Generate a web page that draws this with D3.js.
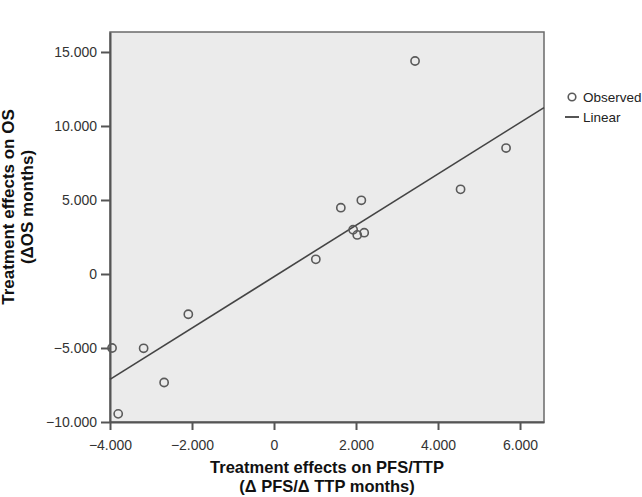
<!DOCTYPE html>
<html>
<head>
<meta charset="utf-8">
<script src="https://cdn.jsdelivr.net/npm/d3@7"></script>
<style>
  html, body { margin: 0; padding: 0; background: #ffffff; }
  svg { display: block; font-family: "Liberation Sans", Arial, sans-serif; }
</style>
</head>
<body>
<svg id="chart" width="642" height="497"></svg>
<script>
// ---- data (thousands) ----
const pfsEffect = [-3.95, -3.80, -3.18, -2.68, -2.09, 1.02, 1.63, 2.13, 1.93, 2.03, 2.20, 3.44, 4.55, 5.66];
const osEffect  = [-5.00, -9.45, -5.02, -7.33, -2.72, 0.99, 4.48, 4.98, 2.99, 2.64, 2.79, 14.39, 5.72, 8.51];
const fitSlope = 1.735;
const fitIntercept = -0.18;
const xTicks = [-4, -2, 0, 2, 4, 6];
const yTicks = [-10, -5, 0, 5, 10, 15];
const legendLabels = ["Observed", "Linear"];
const xTitle = ["Treatment effects on PFS/TTP", "(\u0394 PFS/\u0394 TTP months)"];
const yTitle = ["Treatment effects on OS", "(\u0394OS months)"];

const tickFmt = v => v === 0 ? "0" : (v < 0 ? "\u2212" : "") + Math.abs(v) + ".000";

const svg = d3.select("#chart");
const plot = { left: 110, top: 32, right: 544, bottom: 422 };

const x = d3.scaleLinear().domain([-4, 6.585]).range([plot.left, plot.right]);
const y = d3.scaleLinear().domain([-10, 16.35]).range([plot.bottom, plot.top]);

// plot background
svg.append("rect")
  .attr("x", plot.left).attr("y", plot.top)
  .attr("width", plot.right - plot.left).attr("height", plot.bottom - plot.top)
  .attr("fill", "#ebebeb").attr("stroke", "#6a6a6a").attr("stroke-width", 1.5);

// axes
const xAxis = d3.axisBottom(x).tickValues(xTicks).tickFormat(tickFmt).tickSize(8).tickSizeOuter(0);
const yAxis = d3.axisLeft(y).tickValues(yTicks).tickFormat(tickFmt).tickSize(9).tickSizeOuter(0);

const gx = svg.append("g").attr("transform", `translate(0,${plot.bottom})`).call(xAxis);
const gy = svg.append("g").attr("transform", `translate(${plot.left},0)`).call(yAxis);
[gx, gy].forEach(g => {
  g.select(".domain").attr("stroke", "#555").attr("stroke-width", 2);
  g.selectAll(".tick line").attr("stroke", "#555").attr("stroke-width", 2);
  g.selectAll(".tick text").attr("fill", "#333").style("font-size", "14px")
    .style("font-family", "'Liberation Sans', Arial, sans-serif");
});
gx.selectAll(".tick text").attr("dy", null).attr("y", 28);
gy.selectAll(".tick text").attr("x", -13).attr("dy", "0.35em");

// fit line
const xd = x.domain();
svg.append("line")
  .attr("x1", x(xd[0])).attr("y1", y(fitSlope * xd[0] + fitIntercept))
  .attr("x2", x(xd[1])).attr("y2", y(fitSlope * xd[1] + fitIntercept))
  .attr("stroke", "#444").attr("stroke-width", 1.6);

// points
svg.append("g").selectAll("circle")
  .data(pfsEffect.map((v, i) => [v, osEffect[i]]))
  .join("circle")
  .attr("cx", d => x(d[0])).attr("cy", d => y(d[1]))
  .attr("r", 4.1)
  .attr("fill", "none").attr("stroke", "#5a5a5a").attr("stroke-width", 1.6);

// axis titles
const xt = svg.append("text").attr("text-anchor", "middle")
  .style("font-weight", "bold").style("font-size", "16.5px").attr("fill", "#111");
xt.append("tspan").attr("x", 327).attr("y", 473).text(xTitle[0]);
xt.append("tspan").attr("x", 327).attr("y", 492).text(xTitle[1]);

const yt = svg.append("text").attr("text-anchor", "middle")
  .attr("transform", "translate(0,207) rotate(-90)")
  .style("font-weight", "bold").style("font-size", "17px").attr("fill", "#111");
yt.append("tspan").attr("x", 0).attr("y", 14).text(yTitle[0]);
yt.append("tspan").attr("x", 0).attr("y", 33).text(yTitle[1]);

// legend
const lg = svg.append("g").style("font-size", "13.5px").attr("fill", "#222");
lg.append("circle").attr("cx", 572).attr("cy", 97).attr("r", 3.8)
  .attr("fill", "none").attr("stroke", "#5a5a5a").attr("stroke-width", 1.6);
lg.append("text").attr("x", 583).attr("y", 101.5).text(legendLabels[0]);
lg.append("line").attr("x1", 565).attr("x2", 579).attr("y1", 117).attr("y2", 117)
  .attr("stroke", "#555").attr("stroke-width", 2);
lg.append("text").attr("x", 583).attr("y", 122).text(legendLabels[1]);
</script>
</body>
</html>
